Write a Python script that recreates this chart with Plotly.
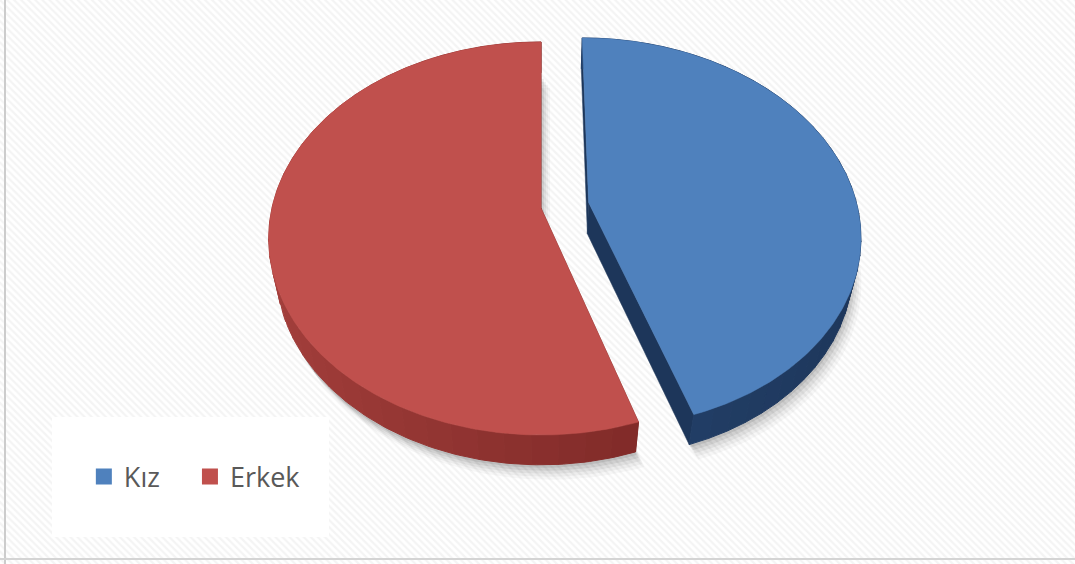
import numpy as np
import plotly.graph_objects as go

# ---- data ----
labels = ["Kız", "Erkek"]
values = [45, 55]
top_colors = ["#4F81BD", "#C0504D"]
side_dark = ["#1D365A", "#6E201E"]
side_light = ["#2A4B7A", "#A43F3C"]
explode = [0.18, 0.0]

# ---- layout / projection constants ----
W, H = 1075, 564
CX, CY, S = 541, 208, 269
SIN_E, COS_E, DIST, THICK = 0.713, 0.701, 4.52, 0.17


def proj(x, y, z):
    x = np.asarray(x, float); y = np.asarray(y, float); z = np.asarray(z, float)
    depth = DIST + y * COS_E - z * SIN_E
    k = S * DIST / depth
    return CX + x * k, CY - (y * SIN_E + z * COS_E) * k


def mix(c1, c2, f):
    a = [int(c1[i:i + 2], 16) for i in (1, 3, 5)]
    b = [int(c2[i:i + 2], 16) for i in (1, 3, 5)]
    return "rgb(%d,%d,%d)" % tuple(round(a[j] + (b[j] - a[j]) * f) for j in range(3))


total = float(sum(values))
slices = []
start = 90.0
for lab, v, ex in zip(labels, values, explode):
    span = v / total * 360.0
    a0, a1 = start, start - span
    mid = np.radians((a0 + a1) / 2)
    slices.append(dict(a0=a0, a1=a1, ox=ex * np.cos(mid), oy=ex * np.sin(mid)))
    start = a1

fig = go.Figure()

# background with fine diagonal stripes
fig.add_trace(go.Scatter(
    x=[0, W, W, 0, 0], y=[0, 0, H, H, 0], mode="lines", fill="toself",
    line=dict(width=0), fillcolor="white",
    fillpattern=dict(shape="\\", bgcolor="white", fgcolor="#e9e9e9", size=5, solidity=0.45),
    hoverinfo="skip", showlegend=False))

# soft shadow
for dx, dy, al in [(1, 3, 0.08), (3, 6, 0.07), (5, 9, 0.05), (7, 12, 0.04), (9, 15, 0.03)]:
    for s in slices:
        t = np.radians(np.linspace(s["a0"], s["a1"], 80))
        xs = np.concatenate([[s["ox"]], s["ox"] + np.cos(t), [s["ox"]]])
        ys = np.concatenate([[s["oy"]], s["oy"] + np.sin(t), [s["oy"]]])
        px, py = proj(xs, ys, np.full_like(xs, -THICK))
        fig.add_trace(go.Scatter(x=px + dx, y=py + dy, mode="lines", fill="toself",
                                 line=dict(width=0), fillcolor="rgba(0,0,0,%.2f)" % al,
                                 hoverinfo="skip", showlegend=False))

# side walls
for i, s in enumerate(slices):
    ox, oy = s["ox"], s["oy"]
    # radial faces
    for a in (s["a0"], s["a1"]):
        ar = np.radians(a)
        xs = [ox, ox + np.cos(ar), ox + np.cos(ar), ox]
        ys = [oy, oy + np.sin(ar), oy + np.sin(ar), oy]
        zs = [0, 0, -THICK, -THICK]
        px, py = proj(xs, ys, zs)
        fig.add_trace(go.Scatter(x=np.append(px, px[0]), y=np.append(py, py[0]), mode="lines",
                                 fill="toself", line=dict(width=0.5, color=side_dark[i]),
                                 fillcolor=side_dark[i], hoverinfo="skip", showlegend=False))
    # rim in shaded segments
    nseg = 40
    edges = np.linspace(s["a0"], s["a1"], nseg + 1)
    for j in range(nseg):
        t = np.radians(np.linspace(edges[j], edges[j + 1], 6))
        midt = (t[0] + t[-1]) / 2
        f = 0.5 * (1 - np.cos(midt))  # 1 on left side, 0 on right
        col = mix(side_dark[i], side_light[i], f)
        xs = np.concatenate([ox + np.cos(t), (ox + np.cos(t))[::-1]])
        ys = np.concatenate([oy + np.sin(t), (oy + np.sin(t))[::-1]])
        zs = np.concatenate([np.zeros(len(t)), np.full(len(t), -THICK)])
        px, py = proj(xs, ys, zs)
        fig.add_trace(go.Scatter(x=np.append(px, px[0]), y=np.append(py, py[0]), mode="lines",
                                 fill="toself", line=dict(width=1, color=col), fillcolor=col,
                                 hoverinfo="skip", showlegend=False))

# top faces
for i, s in enumerate(slices):
    t = np.radians(np.linspace(s["a0"], s["a1"], 200))
    xs = np.concatenate([[s["ox"]], s["ox"] + np.cos(t), [s["ox"]]])
    ys = np.concatenate([[s["oy"]], s["oy"] + np.sin(t), [s["oy"]]])
    px, py = proj(xs, ys, np.zeros_like(xs))
    fig.add_trace(go.Scatter(x=px, y=py, mode="lines", fill="toself",
                             line=dict(width=0.5, color=top_colors[i]), fillcolor=top_colors[i],
                             name=labels[i], hoverinfo="name", showlegend=False))

# legend entries (one legend per entry for exact spacing)
legend_ids = ["legend", "legend2"]
for lab, c, lg in zip(labels, top_colors, legend_ids):
    fig.add_trace(go.Scatter(x=[None], y=[None], mode="markers", name=lab, legend=lg,
                             marker=dict(symbol="square", size=18, color=c), showlegend=True))

leg_font = dict(family="Open Sans", size=27, color="#595959")
fig.update_layout(
    width=W, height=H, margin=dict(l=0, r=0, t=0, b=0),
    paper_bgcolor="white", plot_bgcolor="white",
    xaxis=dict(range=[0, W], visible=False, fixedrange=True),
    yaxis=dict(range=[H, 0], visible=False, fixedrange=True),
    showlegend=True,
    legend=dict(orientation="h", x=0.078, xanchor="left", y=1 - 477 / H, yanchor="middle",
                bgcolor="rgba(0,0,0,0)", font=leg_font, itemsizing="trace"),
    legend2=dict(orientation="h", x=0.1767, xanchor="left", y=1 - 477 / H, yanchor="middle",
                 bgcolor="rgba(0,0,0,0)", font=leg_font, itemsizing="trace"),
    shapes=[
        dict(type="rect", xref="paper", yref="paper", x0=52 / W, x1=329 / W,
             y0=1 - 537 / H, y1=1 - 417 / H, fillcolor="white", line=dict(width=0), layer="above"),
        dict(type="line", xref="paper", yref="paper", x0=5 / W, x1=5 / W, y0=0, y1=1,
             line=dict(color="#cccccc", width=2)),
        dict(type="line", xref="paper", yref="paper", x0=0, x1=1, y0=1 - 559 / H, y1=1 - 559 / H,
             line=dict(color="#d4d4d4", width=2)),
    ],
)

fig.write_html("out.html", config={"displayModeBar": False},
               post_script="document.body.style.margin='0';document.body.style.overflow='hidden';")
